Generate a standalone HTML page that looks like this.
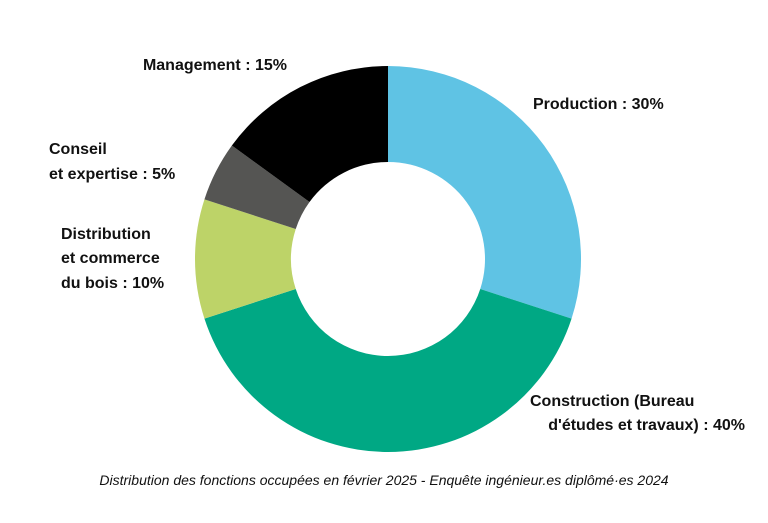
<!DOCTYPE html>
<html><head><meta charset="utf-8"><style>
body{margin:0;background:#fff;width:768px;height:518px;overflow:hidden}
svg text{font-family:"Liberation Sans",sans-serif;}
.lbl{font-size:16px;font-weight:bold;fill:#111}
</style></head><body>
<svg width="768" height="518">
<g id="slices"></g>
<g>
<text class="lbl" x="287" y="70" text-anchor="end">Management : 15%</text>
<text class="lbl" x="533" y="109">Production : 30%</text>
<text class="lbl" x="49" y="154">Conseil</text>
<text class="lbl" x="49" y="179">et expertise : 5%</text>
<text class="lbl" x="61" y="239">Distribution</text>
<text class="lbl" x="61" y="263">et commerce</text>
<text class="lbl" x="61" y="288">du bois : 10%</text>
<text class="lbl" x="530" y="406">Construction (Bureau</text>
<text class="lbl" x="745" y="430" text-anchor="end">d'études et travaux) : 40%</text>
</g>
<text x="384" y="485" text-anchor="middle" font-size="14" font-style="italic" fill="#111">Distribution des fonctions occupées en février 2025 - Enquête ingénieur.es diplômé·es 2024</text>
</svg>
<script>
const categories=["Production","Construction","Distribution","Conseil","Management"];
const values=[30,40,10,5,15];
const colors=["#5fc3e4","#00a884","#bdd368","#555553","#000000"];
const cx=388,cy=259,R=193,r=97;
const g=document.getElementById('slices');
const total=values.reduce((a,b)=>a+b,0);
let a0=0;
function pt(a,rad){return [cx+rad*Math.sin(a),cy-rad*Math.cos(a)];}
values.forEach((v,i)=>{
  const a1=a0+v/total*2*Math.PI;
  const large=(a1-a0)>Math.PI?1:0;
  const [x0,y0]=pt(a0,R),[x1,y1]=pt(a1,R),[x2,y2]=pt(a1,r),[x3,y3]=pt(a0,r);
  const p=document.createElementNS('http://www.w3.org/2000/svg','path');
  p.setAttribute('d',`M${x0},${y0}A${R},${R} 0 ${large} 1 ${x1},${y1}L${x2},${y2}A${r},${r} 0 ${large} 0 ${x3},${y3}Z`);
  p.setAttribute('fill',colors[i]);
  
  
  g.appendChild(p);
  a0=a1;
});
</script>
</body></html>
